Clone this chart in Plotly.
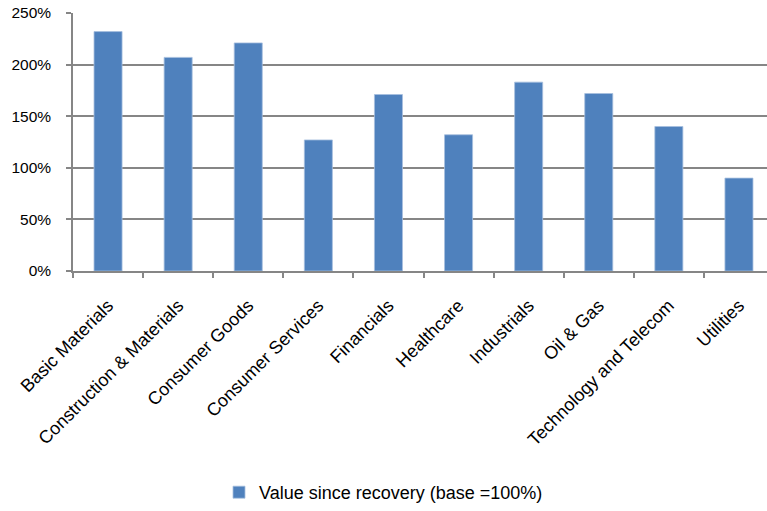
import plotly.graph_objects as go

sectors = [
    "Basic Materials", "Construction & Materials", "Consumer Goods",
    "Consumer Services", "Financials", "Healthcare", "Industrials",
    "Oil & Gas", "Technology and Telecom", "Utilities",
]
value_since_recovery = [232, 207, 221, 127, 171, 132, 183, 172, 140, 90]
y_ticks = [0, 50, 100, 150, 200, 250]
y_tick_labels = ["0%", "50%", "100%", "150%", "200%", "250%"]

BAR_BLUE = "#4F81BD"
GRID = "#868686"
FONT = "Liberation Sans, Arial, sans-serif"

fig = go.Figure(
    go.Bar(
        x=sectors,
        y=value_since_recovery,
        name="Value since recovery (base =100%)",
        marker=dict(color=BAR_BLUE, line=dict(color="#A7BFDE", width=0.8)),
        width=0.4,
    )
)

fig.update_layout(
    width=767,
    height=511,
    margin=dict(l=73, r=0, t=13, b=240),
    paper_bgcolor="white",
    plot_bgcolor="white",
    font=dict(family=FONT, size=18, color="#000000"),
    showlegend=True,
    legend=dict(
        orientation="h",
        xref="container",
        yref="container",
        x=0.5,
        xanchor="center",
        y=0.0,
        yanchor="bottom",
        font=dict(size=18),
    ),
    bargap=0.6,
)

fig.update_xaxes(
    range=[-0.5, 9.4],
    tickangle=-45,
    tickson="boundaries",
    ticks="outside",
    ticklen=5,
    tickwidth=1.5,
    tickcolor=GRID,
    showline=True,
    linecolor=GRID,
    linewidth=2,
    showgrid=False,
    tickfont=dict(size=18),
    ticklabelstandoff=15,
)

fig.update_yaxes(
    range=[0, 250],
    tickvals=y_ticks,
    ticktext=y_tick_labels,
    ticks="outside",
    ticklen=5,
    tickwidth=1.5,
    tickcolor=GRID,
    showline=True,
    linecolor=GRID,
    linewidth=1.5,
    showgrid=True,
    gridcolor=GRID,
    gridwidth=1.5,
    zeroline=False,
    tickfont=dict(size=15.5),
    ticklabelstandoff=12,
)

fig.write_html("out.html")
